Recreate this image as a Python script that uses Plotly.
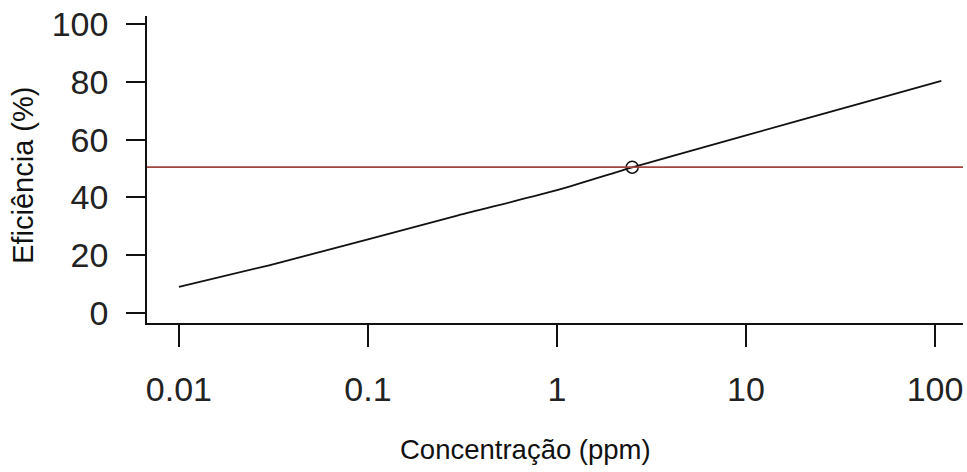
import plotly.graph_objects as go

# Fitted efficiency curve (concentration in ppm, efficiency in %)
conc = [0.01, 0.03, 0.1, 0.3, 1, 2.5, 10, 40, 108]
efic = [9, 16.5, 25.5, 33.8, 42.5, 50.4, 61.5, 72.5, 80.4]

# EC50 point and 50 % reference level
ec50_x = [2.5]
ec50_y = [50.5]
ref_level = 50.5

x_ticks = [0.01, 0.1, 1, 10, 100]
x_ticktext = ["0.01", "0.1", "1", "10", "100"]
y_ticks = [0, 20, 40, 60, 80, 100]

W, H = 967, 472
L, R, T, B = 147.3, 4, 16, 149.3

tick_font = dict(family="Arial, Liberation Sans, sans-serif", size=34, color="#222222")
xtitle_font = dict(family="Arial, Liberation Sans, sans-serif", size=27.5, color="#111111")
ytitle_font = dict(family="Arial, Liberation Sans, sans-serif", size=29, color="#111111")

fig = go.Figure()

fig.add_trace(go.Scatter(
    x=conc, y=efic, mode="lines",
    line=dict(color="#111111", width=1.8, shape="spline", smoothing=0.6),
    showlegend=False, hoverinfo="skip",
))

fig.add_shape(type="line", xref="paper", yref="y", x0=0, x1=1,
              y0=ref_level, y1=ref_level,
              line=dict(color="#a0453f", width=1.6))

fig.add_trace(go.Scatter(
    x=ec50_x, y=ec50_y, mode="markers",
    marker=dict(symbol="circle-open", size=12, color="#111111",
                line=dict(width=1.5, color="#111111")),
    showlegend=False, hoverinfo="skip",
))

fig.update_xaxes(
    type="log", range=[-2.169, 2.148],
    tickvals=x_ticks, ticktext=x_ticktext,
    showline=True, linecolor="#111111", linewidth=1.6,
    ticks="outside", ticklen=22, tickwidth=1.6, tickcolor="#111111",
    ticklabelstandoff=13,
    tickfont=tick_font, showgrid=False, zeroline=False,
)
fig.update_yaxes(
    range=[-3.49, 102.86],
    tickvals=y_ticks,
    showline=True, linecolor="#111111", linewidth=1.6,
    ticks="outside", ticklen=19, tickwidth=1.6, tickcolor="#111111",
    ticklabelstandoff=11,
    tickfont=tick_font, showgrid=False, zeroline=False,
)

pw = W - L - R
ph = H - T - B
fig.add_annotation(text="Concentração (ppm)", xref="paper", yref="paper",
                   x=(525.8 - L) / pw, y=-(449 - (H - B)) / ph,
                   xanchor="center", yanchor="middle", showarrow=False,
                   font=xtitle_font)
fig.add_annotation(text="Eficiência (%)", xref="paper", yref="paper",
                   x=-(L - 24) / pw, y=(H - B - 175) / ph,
                   xanchor="center", yanchor="middle", showarrow=False,
                   textangle=-90, font=ytitle_font)

fig.update_layout(
    width=W, height=H,
    margin=dict(l=L, r=R, t=T, b=B, pad=0),
    plot_bgcolor="white", paper_bgcolor="white",
)

fig.write_html("out.html")
